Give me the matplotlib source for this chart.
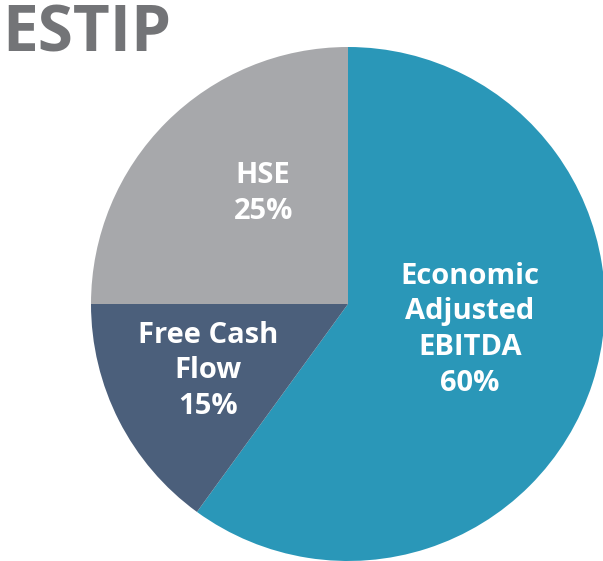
import matplotlib
matplotlib.use("Agg")
import matplotlib.pyplot as plt

labels = ["Economic\nAdjusted\nEBITDA", "Free Cash\nFlow", "HSE"]
shares = [60, 15, 25]
colors = ["#2a97b8", "#4b5f7b", "#a7a8ab"]
label_pos = [(0.475, -0.10), (-0.545, -0.26), (-0.33, 0.43)]

fig = plt.figure(figsize=(6.03, 5.61), dpi=100)
ax = fig.add_axes([91 / 603, 0, 514 / 603, 514 / 561])
wedges, _ = ax.pie(shares, colors=colors, startangle=90, counterclock=False,
                   radius=1.0, wedgeprops=dict(linewidth=0))
for w in wedges:
    w.set_clip_on(False)
ax.set_xlim(-1, 1)
ax.set_ylim(-1, 1)
ax.set_aspect("equal")
ax.axis("off")

for lab, val, (x, y) in zip(labels, shares, label_pos):
    ax.text(x, y, f"{lab}\n{val}%", ha="center", va="center", color="white",
            fontsize=21, fontweight="bold", family="Open Sans", linespacing=1.3)

fig.text(0.003, 0.995, "ESTIP", ha="left", va="top", color="#737477",
         fontsize=46, fontweight="bold", family="Open Sans")

fig.savefig("out.png", dpi=100)
